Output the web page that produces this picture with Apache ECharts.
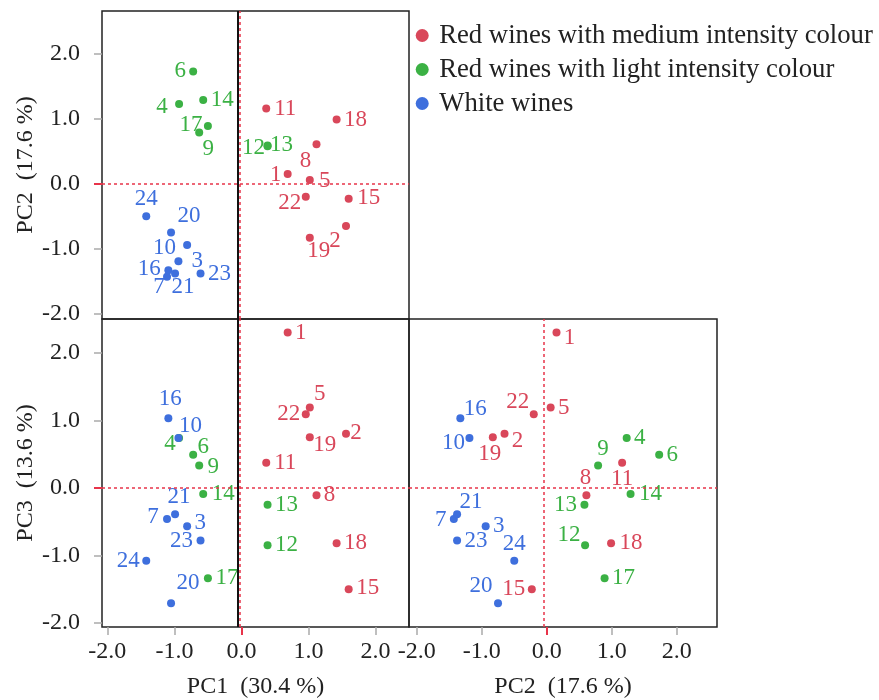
<!DOCTYPE html>
<html>
<head>
<meta charset="utf-8">
<script src="https://cdn.jsdelivr.net/npm/echarts@6/dist/echarts.min.js"></script>
<style>
  html, body { margin: 0; padding: 0; background: #fff; }
  #main { width: 879px; height: 700px; }
</style>
</head>
<body>
<div id="main"></div>
<script>
// wine scores on the first three principal components
var mediumIds = [1, 2, 5, 8, 11, 15, 18, 19, 22];
var mediumPC1 = [0.69, 1.56, 1.02, 1.12, 0.37, 1.60, 1.42, 1.02, 0.96];
var mediumPC2 = [0.15, -0.65, 0.06, 0.61, 1.16, -0.23, 0.99, -0.83, -0.20];
var mediumPC3 = [2.30, 0.80, 1.19, -0.11, 0.37, -1.50, -0.82, 0.75, 1.09];

var lightIds = [4, 6, 9, 12, 13, 14, 17];
var lightPC1 = [-0.93, -0.72, -0.63, 0.39, 0.39, -0.57, -0.50];
var lightPC2 = [1.23, 1.73, 0.79, 0.59, 0.58, 1.29, 0.89];
var lightPC3 = [0.74, 0.49, 0.33, -0.85, -0.25, -0.09, -1.34];

var whiteIds = [3, 7, 10, 16, 20, 21, 23, 24];
var whitePC1 = [-0.81, -1.11, -0.94, -1.09, -1.05, -0.99, -0.61, -1.42];
var whitePC2 = [-0.94, -1.43, -1.19, -1.33, -0.75, -1.38, -1.38, -0.50];
var whitePC3 = [-0.57, -0.46, 0.74, 1.03, -1.71, -0.39, -0.78, -1.08];

var groupNames = ['Red wines with medium intensity colour', 'Red wines with light intensity colour', 'White wines'];
var axisNames = ['PC1  (30.4 %)', 'PC2  (17.6 %)', 'PC3  (13.6 %)'];
var tickValues = [-2, -1, 0, 1, 2];

// label offsets (px) per panel
var labelShift = {
    p12: {1: [-12, 1], 2: [-11, 15], 5: [15, 1], 8: [-11, 17], 11: [19, 0], 15: [20, -1], 18: [19, 0], 19: [9, 13], 22: [-16, 6],
          4: [-17, 3], 6: [-13, 0], 9: [9, 16], 12: [-14, 2], 13: [14, -1], 14: [19, 0], 17: [-17, -1],
          3: [10, 16], 7: [-8, 10], 10: [-14, -13], 16: [-19, -1], 20: [18, -17], 21: [8, 13], 23: [19, 0], 24: [0, -17]},
    p13: {1: [13, 0], 2: [10, -1], 5: [10, -14], 8: [13, 0], 11: [19, 0], 15: [19, -1], 18: [19, 0], 19: [15, 8], 22: [-17, 0],
          4: [-9, 6], 6: [10, -8], 9: [14, 1], 12: [19, 0], 13: [19, 0], 14: [20, 0], 17: [19, 0],
          3: [13, -3], 7: [-14, -2], 10: [12, -12], 16: [2, -19], 20: [17, -20], 21: [4, -17], 23: [-19, 0], 24: [-18, 0]},
    p23: {1: [13, 5], 2: [13, 7], 5: [13, 0], 8: [-1, -17], 11: [0, 16], 15: [-18, 0], 18: [20, 0], 19: [-3, 17], 22: [-16, -12],
          4: [13, 0], 6: [13, 0], 9: [5, -17], 12: [-16, -10], 13: [-19, 0], 14: [20, 0], 17: [19, 0],
          3: [13, 0], 7: [-13, 1], 10: [-16, 5], 16: [15, -9], 20: [-17, -17], 21: [14, -12], 23: [19, 0], 24: [0, -17]}
};

var colors = ['#d9475a', '#3bb144', '#3e6fdd'];
var font = 'Liberation Serif';
var redLine = '#e8344a';

var groups = [
    {ids: mediumIds, pc: [mediumPC1, mediumPC2, mediumPC3]},
    {ids: lightIds, pc: [lightPC1, lightPC2, lightPC3]},
    {ids: whiteIds, pc: [whitePC1, whitePC2, whitePC3]}
];

// panel: which components, which axes
var panels = [
    {key: 'p12', x: 0, y: 1, xAxisIndex: 0, yAxisIndex: 0, vLine: -0.025, black: -0.055},
    {key: 'p13', x: 0, y: 2, xAxisIndex: 1, yAxisIndex: 1, vLine: -0.025, black: -0.055},
    {key: 'p23', x: 1, y: 2, xAxisIndex: 2, yAxisIndex: 2, vLine: -0.05, black: null}
];

var myChart = echarts.init(document.getElementById('main'));

var series = [];
panels.forEach(function (p) {
    groups.forEach(function (g, gi) {
        var s = {
            name: groupNames[gi],
            type: 'scatter',
            xAxisIndex: p.xAxisIndex,
            yAxisIndex: p.yAxisIndex,
            symbol: 'circle',
            symbolSize: 8,
            itemStyle: {color: colors[gi], opacity: 1},
            label: {
                show: true,
                position: 'inside',
                formatter: '{b}',
                color: colors[gi],
                fontFamily: font,
                fontSize: 23
            },
            data: g.ids.map(function (id, i) {
                return {
                    name: String(id),
                    value: [g.pc[p.x][i], g.pc[p.y][i]],
                    label: {offset: labelShift[p.key][id]}
                };
            })
        };
        if (gi === 0) {
            var lines = [
                {yAxis: 0},
                {xAxis: p.vLine}
            ];
            if (p.black !== null) {
                lines.unshift({xAxis: p.black, lineStyle: {color: '#111', type: 'solid', width: 2}});
            }
            s.markLine = {
                silent: true,
                symbol: 'none',
                animation: false,
                label: {show: false},
                lineStyle: {color: redLine, type: [3, 3], width: 1.5},
                data: lines
            };
        }
        series.push(s);
    });
});

var gridStyle = {show: true, borderColor: '#222', borderWidth: 1.5, containLabel: false};

function mainAxis(grid, min, max, name, showIt, isY) {
    return {
        type: 'value',
        gridIndex: grid,
        min: min,
        max: max,
        show: showIt,
        position: isY ? 'left' : 'bottom',
        name: name,
        nameLocation: 'middle',
        nameGap: isY ? 64 : 48,
        nameTextStyle: {fontFamily: font, fontSize: 24, color: '#222'},
        axisLine: {show: false, onZero: false},
        splitLine: {show: false},
        axisTick: {
            show: true,
            length: 8,
            customValues: tickValues.filter(function (v) { return v !== 0; }),
            lineStyle: {color: '#aaa', width: 1.5}
        },
        axisLabel: {
            customValues: tickValues,
            formatter: function (v) { return v.toFixed(1); },
            fontFamily: font,
            fontSize: 24,
            color: '#222',
            margin: isY ? 22 : 13
        }
    };
}

function zeroTickAxis(grid, min, max, isY) {
    return {
        type: 'value',
        gridIndex: grid,
        min: min,
        max: max,
        position: isY ? 'left' : 'bottom',
        offset: 0,
        axisLine: {show: false, onZero: false},
        splitLine: {show: false},
        axisLabel: {show: false},
        axisTick: {show: true, length: 8, customValues: [0], lineStyle: {color: redLine, width: 2}}
    };
}

var pc1Range = [-2.08, 2.50];
var pc2RangeY = [-2.08, 2.66];
var pc2RangeX = [-2.12, 2.62];
var pc3Range = [-2.06, 2.50];

var option = {
    animation: false,
    backgroundColor: '#fff',
    grid: [
        Object.assign({left: 102, top: 11, width: 307, height: 308}, gridStyle),
        Object.assign({left: 102, top: 319, width: 307, height: 308}, gridStyle),
        Object.assign({left: 409, top: 319, width: 308, height: 308}, gridStyle)
    ],
    legend: {
        data: groupNames,
        orient: 'vertical',
        left: 410.7,
        top: 17,
        icon: 'circle',
        itemWidth: 24,
        itemHeight: 13,
        itemGap: 7,
        textStyle: {fontFamily: font, fontSize: 26.7, color: '#222', lineHeight: 26}
    },
    xAxis: [
        mainAxis(0, pc1Range[0], pc1Range[1], '', false, false),
        mainAxis(1, pc1Range[0], pc1Range[1], axisNames[0], true, false),
        mainAxis(2, pc2RangeX[0], pc2RangeX[1], axisNames[1], true, false),
        zeroTickAxis(1, pc1Range[0], pc1Range[1], false),
        zeroTickAxis(2, pc2RangeX[0], pc2RangeX[1], false)
    ],
    yAxis: [
        mainAxis(0, pc2RangeY[0], pc2RangeY[1], axisNames[1], true, true),
        mainAxis(1, pc3Range[0], pc3Range[1], axisNames[2], true, true),
        mainAxis(2, pc3Range[0], pc3Range[1], '', false, true),
        zeroTickAxis(0, pc2RangeY[0], pc2RangeY[1], true),
        zeroTickAxis(1, pc3Range[0], pc3Range[1], true)
    ],
    series: series
};

myChart.setOption(option);
</script>
</body>
</html>
